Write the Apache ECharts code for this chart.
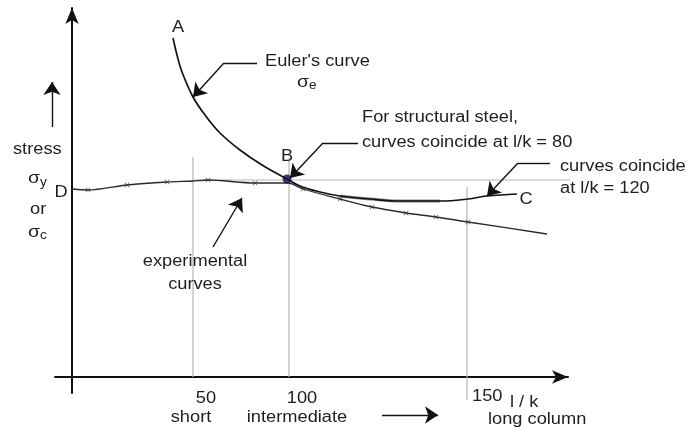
<!DOCTYPE html>
<html>
<head>
<meta charset="utf-8">
<script src="https://cdn.jsdelivr.net/npm/echarts@6/dist/echarts.min.js"></script>
<style>
  html, body { margin: 0; padding: 0; background: #fff; }
  #chart { width: 688px; height: 430px; }
</style>
</head>
<body>
<div id="chart"></div>
<script>
// schematic units: x = l/k drawing distance from the stress axis, y = stress height above the l/k axis
// Euler's curve A -> B -> C
const eulerX = [101, 105, 110, 121, 133, 148, 168, 190, 215, 228, 248, 268, 298, 328, 368, 396, 415, 445];
const eulerY = [339, 322, 305, 280, 262, 244, 227, 212, 198, 191, 185, 181, 178, 176, 176, 178, 181, 183];
// experimental curve D -> ...
const expX = [1, 16, 55, 95, 121, 136, 183, 216, 231, 268, 300, 334, 364, 396, 475];
const expY = [188, 187, 192, 195, 196, 197, 194, 194, 188, 178, 170, 164, 160, 155, 143];
// test readings marked with x on the experimental curve
const testX = [16, 55, 95, 136, 183, 231, 268, 300, 334, 364, 396];
const testY = [187, 192, 195, 197, 194, 188, 178, 170, 164, 160, 155];
// point B where the curves meet
const pointB = [215, 198];
// yield stress level (sigma y)
const yieldY = 197;
const yieldFrom = 121;
const yieldTo = 505;
// guide lines at l/k = 50, 100, 150
const guideX = [121, 217, 395];
const guideTop = [220, 219, 190];
const guideBottom = [0, 0, -23];
const tickLabels = ['50', '100', '150'];
const zoneLabels = ['short', 'intermediate', 'long column'];
// annotation leaders: plain segments, then segments ending in an arrow head
const leaderLines = [
  [[185, 314], [152, 314]],
  [[286, 234], [251, 234]],
  [[478, 214], [446, 214]]
];
const arrowLines = [
  [[152, 314], [121, 280]],
  [[251, 234], [218, 199]],
  [[446, 214], [415, 181]],
  [[141, 130], [170, 179]],
  [[-20, 250], [-20, 295]],
  [[310, -38], [366, -38]]
];

const chart = echarts.init(document.getElementById('chart'));

const INK = '#1e1e1e';
const GUIDE = '#b9b8a6';

function txt(text, x, y, align, size) {
  return {
    type: 'text',
    x: x,
    y: y,
    scaleX: 1.14,
    z: 100,
    style: {
      text: text,
      font: (size || 16) + 'px "Liberation Sans", Arial, sans-serif',
      fill: INK,
      align: align || 'left',
      verticalAlign: 'middle'
    }
  };
}

const series = [];

// guide lines
guideX.forEach(function (gx, i) {
  series.push({
    type: 'line',
    data: [[gx, guideBottom[i]], [gx, guideTop[i]]],
    symbol: 'none',
    clip: false,
    silent: true,
    lineStyle: { color: GUIDE, width: 1.2 },
    z: 1
  });
});

// yield line
series.push({
  type: 'line',
  data: [[yieldFrom, yieldY], [yieldTo, yieldY]],
  symbol: 'none',
  clip: false,
  lineStyle: { color: GUIDE, width: 1.2 },
  z: 1
});

// experimental curve
series.push({
  type: 'line',
  data: expX.map(function (x, i) { return [x, expY[i]]; }),
  symbol: 'none',
  smooth: 0.3,
  lineStyle: { color: '#2a2a2a', width: 1.3 },
  z: 3
});
series.push({
  type: 'scatter',
  data: testX.map(function (x, i) { return [x, testY[i]]; }),
  symbol: 'path://M0,1L1,0L10,9L9,10ZM9,0L10,1L1,10L0,9Z',
  symbolSize: 5,
  itemStyle: { color: '#333' },
  z: 4
});

// Euler's curve
series.push({
  type: 'line',
  data: eulerX.map(function (x, i) { return [x, eulerY[i]]; }),
  symbol: 'none',
  smooth: 0.4,
  lineStyle: { color: '#111', width: 1.7 },
  z: 5
});
// grey band where the curves run together
series.push({
  type: 'line',
  data: eulerX.map(function (x, i) { return [x, eulerY[i]]; }).filter(function (p) { return p[0] >= 268 && p[0] <= 368; }),
  symbol: 'none',
  smooth: 0.4,
  lineStyle: { color: '#8a8a8a', width: 3 },
  z: 4
});

// point B
series.push({
  type: 'scatter',
  data: [pointB],
  symbolSize: 9,
  itemStyle: { color: '#0c0c46' },
  z: 10
});

// leader lines and arrows
series.push({
  type: 'lines',
  coordinateSystem: 'cartesian2d',
  clip: false,
  symbol: 'none',
  lineStyle: { color: '#111', width: 1.4, opacity: 1, curveness: 0 },
  data: leaderLines.map(function (c) { return { coords: c }; }),
  z: 8
});
series.push({
  type: 'lines',
  coordinateSystem: 'cartesian2d',
  clip: false,
  symbol: ['none', 'arrow'],
  symbolSize: [8, 13],
  lineStyle: { color: '#111', width: 1.4, opacity: 1, curveness: 0 },
  data: arrowLines.map(function (c) { return { coords: c }; }),
  z: 8
});

const graphics = [
  txt('A', 178, 28, 'center'),
  txt("Euler's curve", 265, 62),
  txt('σ', 297, 82, 'left', 17),
  txt('e', 309, 86, 'left', 12),
  txt('B', 287, 157, 'center'),
  txt('For structural steel,', 362, 118),
  txt('curves coincide at l/k = 80', 362, 143),
  txt('curves coincide', 560, 167),
  txt('at l/k = 120', 560, 189),
  txt('C', 526, 200, 'center'),
  txt('D', 61, 193, 'center'),
  txt('stress', 13, 150),
  txt('σ', 28, 178, 'left', 17),
  txt('y', 40, 183, 'left', 12),
  txt('or', 30, 210),
  txt('σ', 28, 232, 'left', 17),
  txt('c', 40, 236, 'left', 12),
  txt('experimental', 195, 262, 'center'),
  txt('curves', 195, 285, 'center'),
  txt(tickLabels[0], 206, 399, 'center'),
  txt(tickLabels[1], 302, 399, 'center'),
  txt(tickLabels[2], 472, 397),
  txt('l / k', 510, 403),
  txt(zoneLabels[0], 191, 418, 'center'),
  txt(zoneLabels[1], 297, 418, 'center'),
  txt(zoneLabels[2], 488, 420)
];

const axisCommon = {
  type: 'value',
  axisLine: {
    show: true,
    onZero: true,
    symbol: ['none', 'arrow'],
    symbolSize: [10, 16],
    lineStyle: { color: '#111', width: 2 }
  },
  axisTick: { show: false },
  axisLabel: { show: false },
  splitLine: { show: false }
};

chart.setOption({
  backgroundColor: '#fff',
  animation: false,
  grid: { left: 55, right: 120, top: 8, bottom: 37 },
  xAxis: Object.assign({}, axisCommon, { min: -17, max: 496 }),
  yAxis: Object.assign({}, axisCommon, { min: -16, max: 369 }),
  series: series,
  graphic: graphics
});
</script>
</body>
</html>
